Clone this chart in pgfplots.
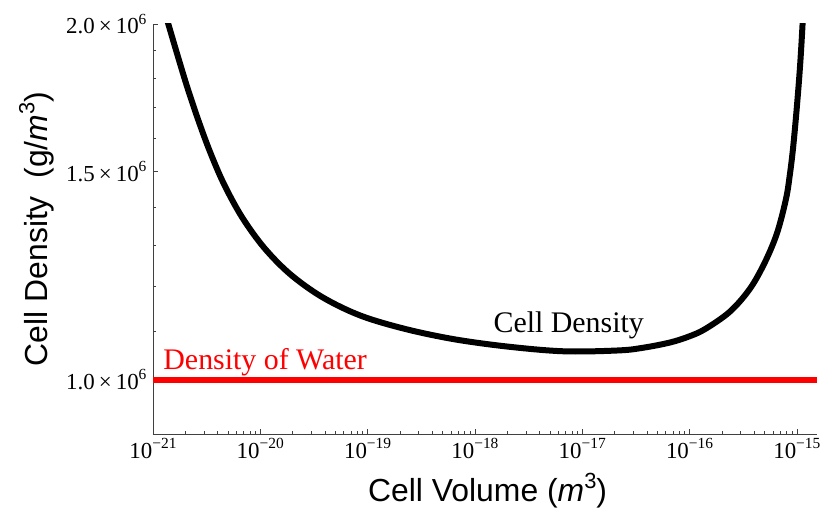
\documentclass[border=0pt]{standalone}
\usepackage{fontspec}
\setmainfont{Liberation Serif}
\newfontfamily\helv{Liberation Sans}
\usepackage{pgfplots}
\pgfplotsset{compat=1.18}
\newcommand{\sups}[1]{\raisebox{0.42em}{\fontsize{15.5}{15.5}\selectfont #1}}
\newcommand{\lsups}[1]{\raisebox{0.42em}{\fontsize{22}{22}\selectfont #1}}
\begin{document}
\begin{tikzpicture}
\begin{axis}[
  at={(0,0)}, anchor=south west,
  scale only axis, width=664bp, height=410bp,
  xmode=log, ymode=log,
  xmin=1e-21, xmax=1.54e-15, ymin=9e5, ymax=2e6,
  axis x line=bottom, axis y line=left,
  axis line style={-, black!75, line width=0.8bp},
  xtick={1e-21,1e-20,1e-19,1e-18,1e-17,1e-16,1e-15},
  xticklabels={10\sups{−21},10\sups{−20},10\sups{−19},10\sups{−18},10\sups{−17},10\sups{−16},10\sups{−15}},
  ytick={1e6,1.5e6,2e6},
  yticklabels={1.0\kern4bp×\kern4bp10\sups{6},1.5\kern4bp×\kern4bp10\sups{6},2.0\kern4bp×\kern4bp10\sups{6}},
  minor ytick={9e5,1.1e6,1.2e6,1.3e6,1.4e6,1.6e6,1.7e6,1.8e6,1.9e6},
  tick align=inside,
  major tick length=5bp, minor tick length=3bp,
  tick style={black!75, line width=0.6bp},
  ticklabel style={font=\fontsize{23}{27}\selectfont},
  xticklabel style={yshift=-1bp},
  yticklabel style={xshift=-3bp},
  xlabel={Cell Volume (\textit{m}\lsups{3})},
  ylabel={Cell Density\ \ (g/\textit{m}\lsups{3})},
  label style={font=\helv\fontsize{32}{36}\selectfont},
  xlabel style={at={(axis description cs:0.504,-0.138)}, anchor=center},
  ylabel style={at={(axis description cs:-0.175,0.5)}, anchor=center},
]
\addplot[red, line width=6bp] coordinates {(1e-21,1e6) (1.54e-15,1e6)};
\addplot[black, line width=6bp, smooth, tension=0.55] table {
x y
1.187e-21 2.101e6
1.394e-21 1.998e6
1.674e-21 1.8884e6
2.075e-21 1.7710e6
2.627e-21 1.6610e6
3.398e-21 1.5593e6
4.589e-21 1.4638e6
6.753e-21 1.3729e6
1.0826e-20 1.2938e6
1.891e-20 1.2288e6
3.758e-20 1.1751e6
8.497e-20 1.1336e6
2.231e-19 1.1042e6
6.525e-19 1.0819e6
2.124e-18 1.0663e6
6.914e-18 1.0570e6
2.250e-17 1.0590e6
3.848e-17 1.0651e6
6.581e-17 1.0754e6
9.683e-17 1.0873e6
1.394e-16 1.1037e6
2.385e-16 1.1422e6
3.664e-16 1.1944e6
5.052e-16 1.2578e6
6.539e-16 1.3308e6
7.934e-16 1.4231e6
8.643e-16 1.4954e6
9.216e-16 1.5699e6
9.830e-16 1.6707e6
1.037e-15 1.7710e6
1.083e-15 1.8701e6
1.130e-15 1.998e6
1.167e-15 2.126e6
};
\node[anchor=base west, red, font=\fontsize{30}{34}\selectfont] at (axis cs:1.16e-21,1.0196e6) {Density of Water};
\node[anchor=base west, black, font=\fontsize{30}{34}\selectfont] at (axis cs:1.384e-18,1.0957e6) {Cell Density};
\end{axis}
\pgfresetboundingbox
\path (-153bp,-82bp) rectangle (674bp,434bp);
\end{tikzpicture}
\end{document}
